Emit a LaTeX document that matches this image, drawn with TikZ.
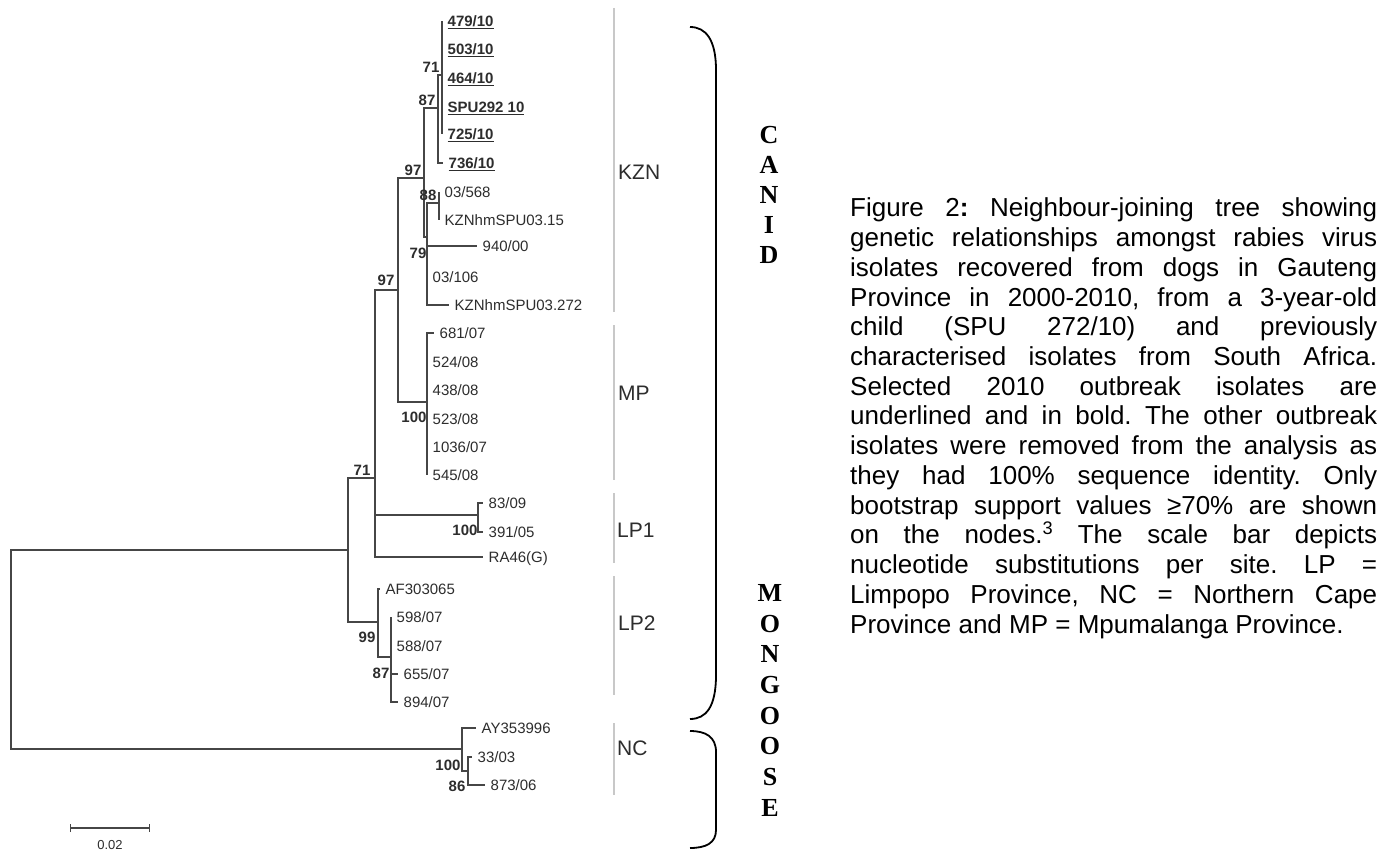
\documentclass[tikz,border=0pt]{standalone}
\usepackage{fontspec}
\setmainfont{Liberation Sans}
\newfontfamily\cladefont{Liberation Serif}
\definecolor{myk}{RGB}{45, 45, 45}
\definecolor{myl}{RGB}{70, 70, 70}
\definecolor{mygr}{RGB}{200, 200, 200}
\usetikzlibrary{arrows.meta, positioning}
\newcommand{\ub}[1]{\underline{\textbf{#1}}}

\begin{document}
\begin{tikzpicture}[x=1pt, y=-1pt,
			leaf/.style={anchor=west, inner xsep=5.5pt, inner ysep=0pt, text height=10.7pt,
				text depth=0pt, font=\fontsize{15}{18}\selectfont, text=myk},
			boot/.style={inner sep=0pt, font=\fontsize{15}{18}\selectfont\bfseries, text=myk},
			branch/.style={draw=myl, line width=1.2pt},
			grp/.style={anchor=west, inner sep=0pt, font=\fontsize{21}{24}\selectfont, text=myk},
			bar/.style={draw=mygr, line width=2pt},
			clade/.style={inner sep=0pt, font=\cladefont\fontsize{26}{30}\selectfont\bfseries},
			brace/.style={draw=black, line width=1.8pt},
			capline/.style={anchor=base west, inner sep=0pt, font=\fontsize{26}{30}\selectfont\frenchspacing},
			]
			\useasboundingbox[fill=white] (0,0) rectangle (1396,850);
			% inner nodes of the tree
			\coordinate (root) at (11,650);
			\coordinate (nK) at (348,550);
			\coordinate (nG) at (375,478);
			\coordinate (nE) at (398,290);
			\coordinate (nC) at (424,178);
			\coordinate (nB) at (438,108);
			\coordinate (nA) at (442,75);
			\coordinate (n79) at (427,237);
			\coordinate (n88) at (439,203);
			\coordinate (nF) at (427,402);
			\coordinate (nH) at (478,515);
			\coordinate (nI) at (378,622);
			\coordinate (nJ) at (391,657);
			\coordinate (nL) at (462,749);
			\coordinate (nM) at (468,771);
			% leaves
			\node[leaf] (l479) at (442,21) {\ub{479/10}};
			\node[leaf] (l503) at (442,49) {\ub{503/10}};
			\node[leaf] (l464) at (442,78) {\ub{464/10}};
			\node[leaf] (lspu) at (442,107) {\ub{SPU292 10}};
			\node[leaf] (l725) at (442,134) {\ub{725/10}};
			\node[leaf] (l736) at (443,163) {\ub{736/10}};
			\node[leaf] (l568) at (439,192) {03/568};
			\node[leaf] (lk15) at (439,220) {KZNhmSPU03.15};
			\node[leaf] (l940) at (477,246) {940/00};
			\node[leaf] (l106) at (427,277) {03/106};
			\node[leaf] (lk272) at (449,305) {KZNhmSPU03.272};
			\node[leaf] (l681) at (434,333) {681/07};
			\node[leaf] (l524) at (427,362) {524/08};
			\node[leaf] (l438) at (427,390) {438/08};
			\node[leaf] (l523) at (427,419) {523/08};
			\node[leaf] (l1036) at (427,447) {1036/07};
			\node[leaf] (l545) at (427,475) {545/08};
			\node[leaf] (l83) at (483,503) {83/09};
			\node[leaf] (l391) at (483,532) {391/05};
			\node[leaf] (lra) at (483,557) {RA46(G)};
			\node[leaf] (laf) at (380,589) {AF303065};
			\node[leaf] (l598) at (391,617) {598/07};
			\node[leaf] (l588) at (391,646) {588/07};
			\node[leaf] (l655) at (398,674) {655/07};
			\node[leaf] (l894) at (398,702) {894/07};
			\node[leaf] (lay) at (476,728) {AY353996};
			\node[leaf] (l33) at (472,757) {33/03};
			\node[leaf] (l873) at (485,785) {873/06};
			% branches
			\foreach \a/\b in {root/nK, root/nL, nK/nG, nK/nI, nG/nE, nE/nC, nE/nF, nC/nB,
				nC/n79, nB/nA, n79/n88, nG/nH, nI/nJ, nL/nM}
			\draw[branch] (\a) |- (\b);
			\foreach \a/\b in {nA/l479, nA/l503, nA/l464, nA/lspu, nA/l725, nB/l736, n88/l568,
				n88/lk15, n79/l940, n79/l106, n79/lk272, nF/l681, nF/l524, nF/l438, nF/l523,
				nF/l1036, nF/l545, nH/l83, nH/l391, nG/lra, nI/laf, nJ/l598, nJ/l588, nJ/l655,
				nJ/l894, nL/lay, nM/l33, nM/l873}
			\draw[branch] (\a) |- (\b.west);
			% bootstrap values
			\node[boot] (b71a) at (431,67) {71};
			\node[boot] (b87a) at (427,100) {87};
			\node[boot] (b97a) at (413,170) {97};
			\node[boot] (b88) at (428,195) {88};
			\node[boot] (b79) at (418,253) {79};
			\node[boot] (b97b) at (386,280) {97};
			\node[boot] (b100a) at (414,417) {100};
			\node[boot] (b71b) at (362,470) {71};
			\node[boot] (b100b) at (465,530) {100};
			\node[boot] (b99) at (367,637) {99};
			\node[boot] (b87b) at (381,673) {87};
			\node[boot] (b100c) at (448,765) {100};
			\node[boot] (b86) at (457,786) {86};
			% scale bar
			\coordinate (sbl) at (70,828);
			\coordinate (sbr) at (150,828);
			\draw[branch, {Bar[width=8pt]}-{Bar[width=8pt]}] (sbl) -- (sbr);
			\node[inner sep=0pt, font=\fontsize{13}{15}\selectfont, text=myk] (sbt) at (110,845) {0.02};
			% groups
			\foreach \t/\b in {8/312, 325/480, 493/563, 576/695, 723/795}
			\draw[bar] (614,\t) -- (614,\b);
			\node[grp] (kzn) at (618,172) {KZN};
			\node[grp] (mp) at (618,393) {MP};
			\node[grp] (lp1) at (617,530) {LP1};
			\node[grp] (lp2) at (618,623) {LP2};
			\node[grp] (nc) at (617,748) {NC};
			% braces and clade names
			\draw[brace] (690,27) .. controls (706,27) and (716,40) .. (716,70) -- (716,675)
				.. controls (716,707) and (706,719) .. (690,719);
			\draw[brace] (690,731) .. controls (706,731) and (716,737) .. (716,752) -- (716,830)
				.. controls (716,843) and (706,848) .. (690,848);
			\foreach \ch [count=\i] in {C,A,N,I,D}
			\node[clade] (can\i) at (769,105+30*\i) {\ch};
			\foreach \ch [count=\i] in {M,O,N,G,O,O,S,E}
			\node[clade] (mon\i) at (770,562.3+30.7*\i) {\ch};
			% caption
			\foreach \ln [count=\i] in {{Figure 2\textbf{:} Neighbour-joining tree showing},
				{genetic relationships amongst rabies virus},
				{isolates recovered from dogs in Gauteng},
				{Province in 2000-2010, from a 3-year-old},
				{child (SPU 272/10) and previously},
				{characterised isolates from South Africa.},
				{Selected 2010 outbreak isolates are},
				{underlined and in bold. The other outbreak},
				{isolates were removed from the analysis as},
				{they had 100\% sequence identity. Only},
				{bootstrap support values ≥70\% are shown},
				{on the nodes.\textsuperscript{3} The scale bar depicts},
				{nucleotide substitutions per site. LP =},
				{Limpopo Province, NC = Northern Cape}}
			\node[capline] (cap\i) at (850,187.3+29.7*\i) {\makebox[527pt][s]{\ln}};
			\node[capline] (cap15) at (850,633) {Province and MP = Mpumalanga Province.};
	\end{tikzpicture}
\end{document}
